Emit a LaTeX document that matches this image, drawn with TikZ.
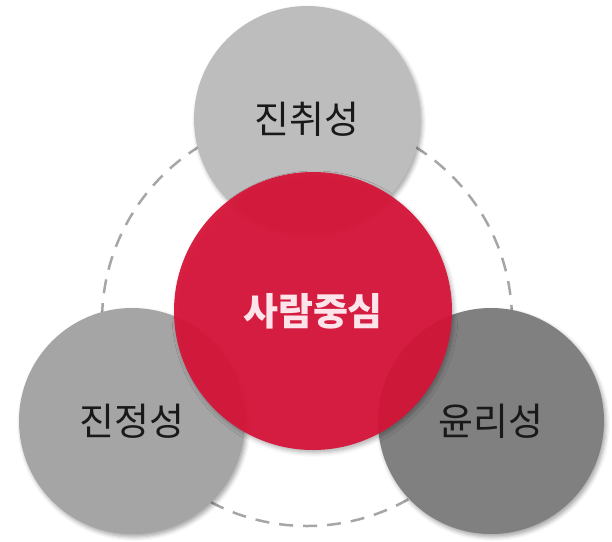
\documentclass[tikz,border=0pt]{standalone}
\usepackage{fontspec}
\newfontfamily\krfont{Noto Sans CJK KR}
\usetikzlibrary{shadows.blur}
\definecolor{topgray}{HTML}{BDBDBD}
\definecolor{leftgray}{HTML}{A5A5A5}
\definecolor{rightgray}{HTML}{808080}
\definecolor{corered}{RGB}{214,20,56}
\definecolor{ringgray}{HTML}{A6A6A6}
\definecolor{corelabel}{HTML}{FCE4EA}

\begin{document}
\begin{tikzpicture}[x=1pt, y=-1pt,
	bubble/.style={circle, inner sep=0pt, minimum size=226pt, font=\krfont\fontsize{38}{38}\selectfont, text=black!90,
		blur shadow={shadow xshift=2pt, shadow yshift=-3pt, shadow blur radius=4pt, shadow opacity=35}},
	core/.style={circle, inner sep=0pt, minimum size=278pt, fill=corered, fill opacity=0.94, text opacity=1,
		font=\krfont\bfseries\fontsize{38}{38}\selectfont, text=corelabel,
		blur shadow={shadow xshift=2pt, shadow yshift=-3pt, shadow blur radius=4pt, shadow opacity=30}}]
			%%%%% START %%%%%
			
			\useasboundingbox (0, 0) rectangle (612, 541);
			
			\draw[line width=2.5pt, color=ringgray, dash pattern=on 14pt off 10pt] (307, 321) circle (205);
			
			\node[bubble, fill=topgray] (courage) at (307, 119) {진취성};
			\node[bubble, fill=leftgray] (sincerity) at (132, 421) {\raisebox{-4pt}{진정성}};
			\node[bubble, fill=rightgray] (ethics) at (491, 421) {\raisebox{-4pt}{윤리성}};
			
			\node[core] (people) at (313, 311) {사람중심};
			
			%%%%% END %%%%%
\end{tikzpicture}
\end{document}
